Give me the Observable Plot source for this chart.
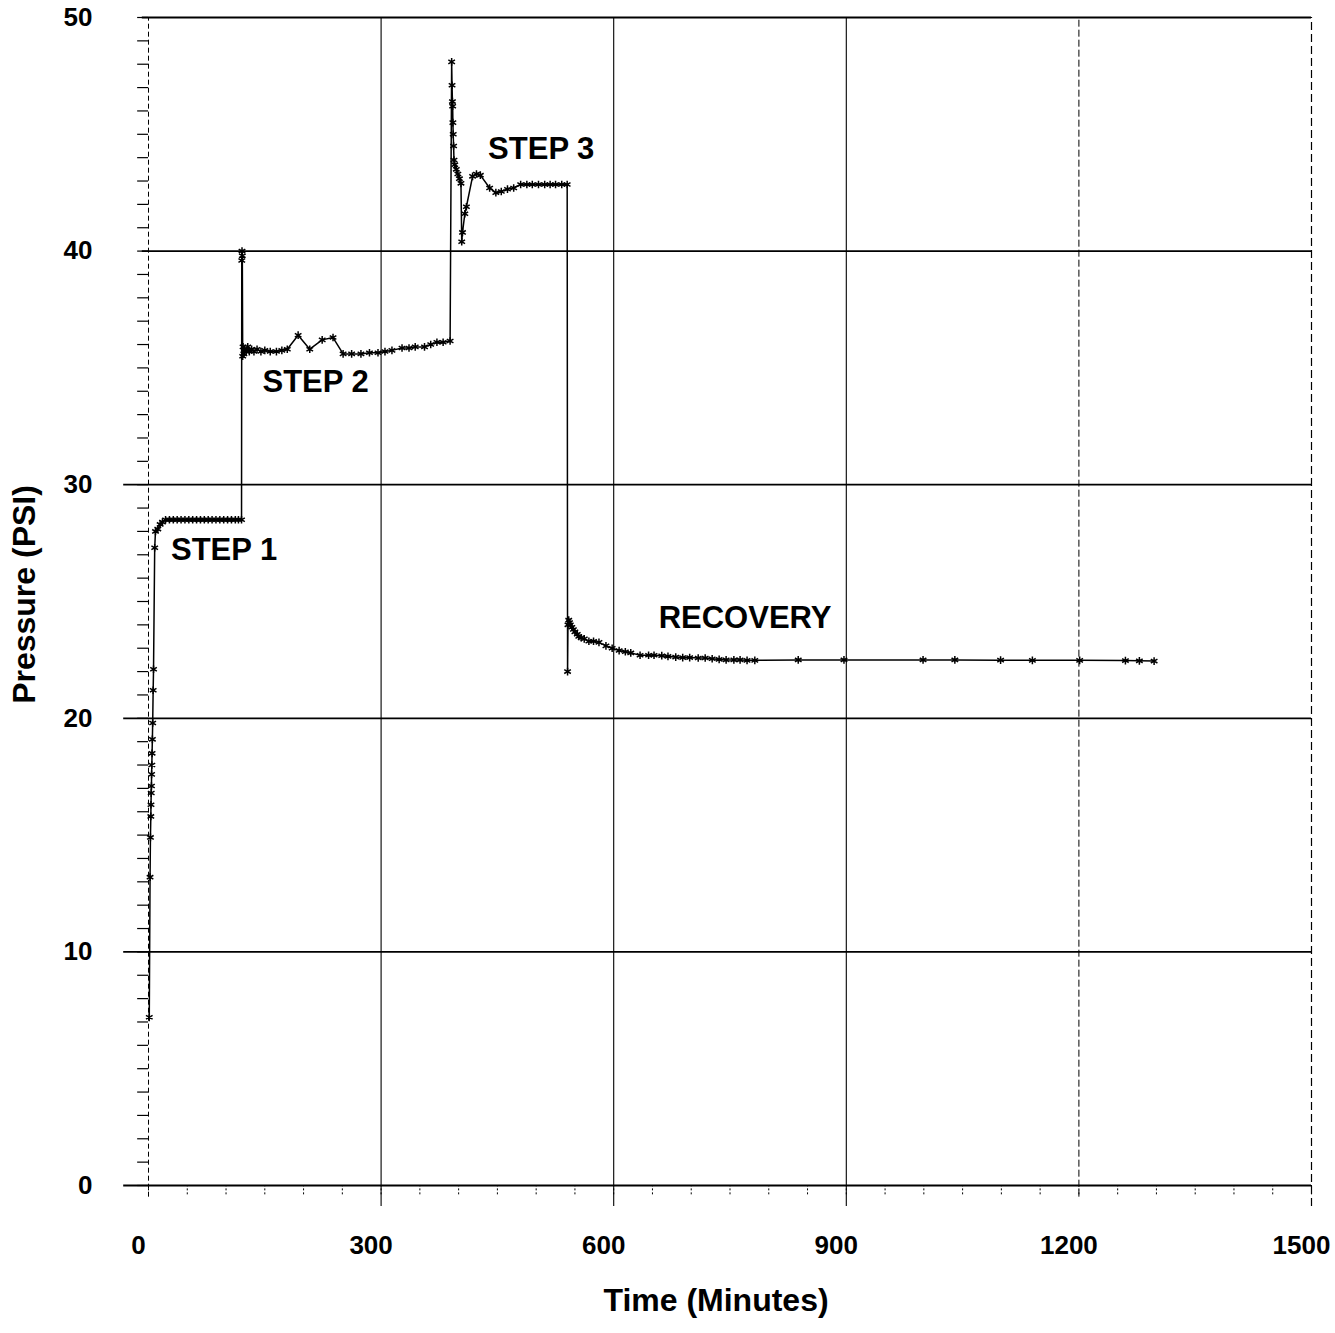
<!DOCTYPE html>
<html>
<head>
<meta charset="utf-8">
<script src="https://cdn.jsdelivr.net/npm/d3@7"></script>
<script src="https://cdn.jsdelivr.net/npm/@observablehq/plot@0.6"></script>
<style>
  html, body { margin: 0; padding: 0; background: white; }
</style>
</head>
<body>
<div id="chart"></div>
<script>
// ---- Data ----
const times = [
  // STEP 1
  1, 2.0, 2.5, 3.0, 3.2, 3.5, 3.8, 4.0, 4.3, 4.6, 5.0, 5.4, 6, 6.5, 8, 9, 12, 15, 18, 22,
  27, 32, 37, 42, 47, 52, 57, 62, 67, 72, 77, 82, 87, 92, 97, 102, 107, 112, 116, 120,
  // STEP 2
  120.3, 120.6, 121, 121.5, 122, 123, 124, 126, 128, 130, 133, 136, 140, 145, 150, 157, 165, 172, 179,
  193, 208, 224, 238, 251, 262, 274, 285, 296, 305, 314, 327, 336, 344, 356, 364, 372, 380, 389,
  // STEP 3
  391, 391.5, 392, 392.3, 392.6, 393, 393.5, 394, 395, 397, 399, 401, 403, 404, 405, 408, 410,
  418, 423, 428, 440, 448, 455, 463, 471, 480, 488, 495, 503, 511, 518, 525, 533, 540,
  // RECOVERY
  540.5, 541, 542, 543, 544, 546, 548, 550, 553, 555, 558, 562, 568, 574, 581, 590, 598, 607,
  615, 622, 634, 645, 652, 662, 670, 680, 689, 698, 709, 718, 727, 736, 745, 755, 763, 772, 782,
  838, 897, 999, 1040, 1099, 1140, 1201, 1260, 1278, 1297
];
const pressures = [
  // STEP 1
  7.2, 13.2, 14.9, 15.8, 16.3, 16.8, 17.1, 17.6, 18.0, 18.5, 19.1, 19.8, 21.2, 22.1, 27.3, 28.0, 28.1, 28.3, 28.4, 28.5,
  28.5, 28.5, 28.5, 28.5, 28.5, 28.5, 28.5, 28.5, 28.5, 28.5, 28.5, 28.5, 28.5, 28.5, 28.5, 28.5, 28.5, 28.5, 28.5, 28.5,
  // STEP 2
  39.6, 40.0, 39.8, 35.5, 35.9, 35.6, 35.8, 35.7, 35.9, 35.7, 35.8, 35.7, 35.8, 35.7, 35.75, 35.7, 35.7, 35.75, 35.8,
  36.4, 35.8, 36.2, 36.3, 35.6, 35.6, 35.6, 35.65, 35.65, 35.7, 35.75, 35.85, 35.85, 35.9, 35.9, 36.0, 36.1, 36.1, 36.15,
  // STEP 3
  48.1, 47.1, 46.4, 46.2, 45.5, 45.0, 44.5, 43.9, 43.7, 43.5, 43.3, 43.1, 42.9, 40.4, 40.8, 41.6, 41.9,
  43.2, 43.3, 43.25, 42.7, 42.5, 42.55, 42.65, 42.7, 42.85, 42.85, 42.85, 42.85, 42.85, 42.85, 42.85, 42.85, 42.85,
  // RECOVERY
  22.0, 24.0, 24.2, 24.1, 24.0, 23.9, 23.8, 23.7, 23.6, 23.5, 23.45, 23.4, 23.3, 23.3, 23.25, 23.1, 23.0, 22.9,
  22.85, 22.8, 22.7, 22.7, 22.7, 22.68, 22.65, 22.62, 22.6, 22.6, 22.58, 22.58, 22.55, 22.52, 22.5, 22.5, 22.5, 22.48, 22.48,
  22.5, 22.5, 22.5, 22.5, 22.49, 22.48, 22.48, 22.47, 22.46, 22.45
];

const xTicks = [0, 300, 600, 900, 1200, 1500];
const yTicks = [0, 10, 20, 30, 40, 50];
const stepLabels = ["STEP 1", "STEP 2", "STEP 3", "RECOVERY"];
const stepLabelTimes = [29, 147, 438, 658];
const stepLabelPressures = [27.2, 34.4, 44.35, 24.3];
const xTitle = "Time (Minutes)";
const yTitle = "Pressure (PSI)";

// ---- Build tables ----
const data = times.map((t, i) => ({t, p: pressures[i]}));
const labels = stepLabels.map((s, i) => ({s, t: stepLabelTimes[i], p: stepLabelPressures[i]}));
const minorY = d3.range(0, 51, 1);
const minorX = d3.range(0, 1501, 50);

const chart = Plot.plot({
  width: 1335,
  height: 1333,
  marginLeft: 148,
  marginRight: 24,
  marginTop: 17,
  marginBottom: 148,
  x: {domain: [0, 1500]},
  y: {domain: [0, 50]},
  style: {
    fontFamily: "'Liberation Sans', Arial, sans-serif",
    fontWeight: "bold",
    background: "white",
    color: "black",
    overflow: "visible"
  },
  marks: [
    // horizontal grid lines
    Plot.ruleY(yTicks, {y: d => d, x1: d => (d < 40 ? -32 : -8), x2: 1500, stroke: "black", strokeWidth: 1.8}),
    // vertical grid lines
    Plot.ruleX([300, 600, 900], {x: d => d, y1: -0.9, y2: 50, stroke: "black", strokeWidth: 1.1}),
    Plot.ruleX([1200], {x: d => d, y1: -0.5, y2: 50, stroke: "black", strokeWidth: 1, strokeDasharray: "7,3"}),
    Plot.ruleX([1500], {x: d => d, y1: -0.9, y2: 50, stroke: "black", strokeWidth: 1.2, strokeDasharray: "8,4"}),
    Plot.ruleX([0], {x: d => d, y1: -0.5, y2: 50, stroke: "black", strokeWidth: 1, strokeDasharray: "5,3"}),
    // minor ticks
    Plot.ruleY(minorY, {y: d => d, x1: -14, x2: 0, stroke: "black", strokeWidth: 1.2}),
    Plot.ruleX(minorX, {x: d => d, y1: -0.4, y2: 0, stroke: "black", strokeWidth: 1, strokeDasharray: "2,2"}),
    // axes
    Plot.axisY({ticks: yTicks, tickSize: 0, tickPadding: 56, fontSize: 26, label: null, tickFormat: d3.format("d")}),
    Plot.axisX({ticks: xTicks, tickSize: 0, tickPadding: 50, fontSize: 26, label: null, dx: -10, tickFormat: d3.format("d")}),
    // series
    Plot.line(data, {x: "t", y: "p", stroke: "black", strokeWidth: 1.5}),
    Plot.dot(data, {x: "t", y: "p", symbol: "asterisk", r: 3.6, stroke: "black", strokeWidth: 1.5}),
    // annotations
    Plot.text(labels, {x: "t", y: "p", text: "s", textAnchor: "start", fontSize: 31, fontWeight: "bold", fill: "black"}),
    // axis titles
    Plot.text([xTitle], {frameAnchor: "bottom", dy: 125, dx: -14, fontSize: 32, fontWeight: "bold", fill: "black"}),
    Plot.text([yTitle], {x: [-159], y: [25.3], text: [yTitle], rotate: -90, fontSize: 32, fontWeight: "bold", fill: "black"})
  ]
});

document.getElementById("chart").appendChild(chart);
</script>
</body>
</html>
